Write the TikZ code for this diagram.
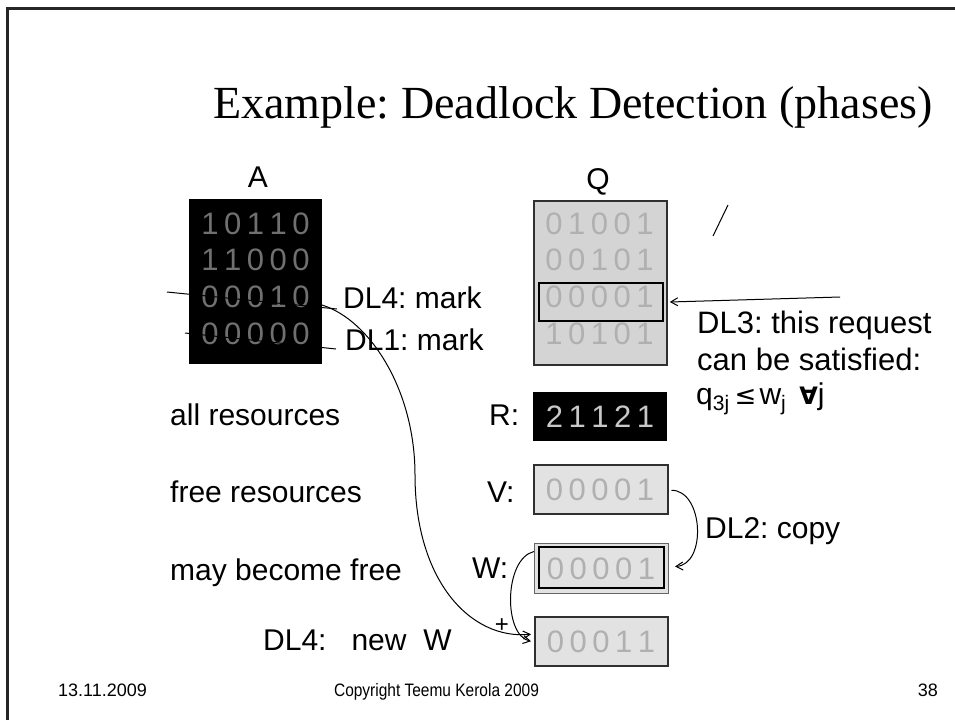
\documentclass[tikz,border=0pt]{standalone}
\usepackage{fontspec}
\setmainfont{Liberation Sans}
\newfontfamily\titlefont{Liberation Serif}
\newfontfamily\symf{DejaVu Sans}
\usetikzlibrary{arrows.meta}
\frenchspacing
\newcommand{\dsp}{\kern5.5pt}
\newcommand{\drow}[5]{#1\dsp#2\dsp#3\dsp#4\dsp#5}
\definecolor{qfill}{HTML}{D4D4D4}
\definecolor{vfill}{HTML}{E2E2E2}
\definecolor{qdig}{HTML}{B0B0B0}
\definecolor{adig}{HTML}{707070}
\definecolor{rdig}{HTML}{C8C8C8}
\definecolor{boxline}{HTML}{303030}
\tikzset{
  lbl/.style={inner sep=0pt, anchor=base west, font=\fontsize{30}{36}\selectfont},
  digA/.style={inner sep=0pt, anchor=base, text=adig, font=\fontsize{31}{36}\selectfont},
  digQ/.style={inner sep=0pt, anchor=base, text=qdig, font=\fontsize{31}{36}\selectfont},
  digR/.style={inner sep=0pt, anchor=base, text=rdig, font=\fontsize{31}{36}\selectfont},
  lightbox/.style={draw=boxline, line width=1.5pt, fill=vfill},
  arr/.style={line width=1pt, -{Straight Barb[length=7pt,width=8pt]}},
  thin/.style={line width=1pt},
  foot/.style={inner sep=0pt, anchor=base, font=\fontsize{18}{20}\selectfont}
}
\begin{document}
\begin{tikzpicture}[x=1pt,y=-1pt]
\useasboundingbox (0,0) rectangle (955,720);
\fill[white] (0,0) rectangle (955,720);
% frame
\draw[line width=3pt, black!85] (7,720) -- (7,8) -- (955,8);
% title
\node (title) [inner sep=0pt, anchor=base, font=\titlefont\fontsize{46}{52}\selectfont] at (573,118) {Example: Deadlock Detection (phases)};
% A matrix
\node (Alab) [inner sep=0pt, anchor=base, font=\fontsize{30}{36}\selectfont] at (258,187) {A};
\node (Abox) [fill=black, minimum width=133pt, minimum height=165pt, inner sep=0pt, anchor=north west] at (189,199) {};
\node (a1) [digA] at (255.5,234) {\drow10110};
\node (a2) [digA] at (255.5,270.5) {\drow11000};
\node (a3) [digA] at (255.5,307) {\drow00010};
\node (a4) [digA] at (255.5,344) {\drow00000};
% mark lines
\coordinate (m4l) at (167,292);
\coordinate (m4r) at (337,309);
\coordinate (m1l) at (185,333);
\coordinate (m1r) at (336,349);
\draw[thin] (m4l) -- (m4r);
\draw[thin] (m1l) -- (m1r);
\node (dl4) [lbl] at (343,308) {DL4: mark};
\node (dl1) [lbl] at (345,350) {DL1: mark};
% Q matrix
\node (Qlab) [inner sep=0pt, anchor=base, font=\fontsize{30}{36}\selectfont] at (598,189) {Q};
\node (Qbox) [draw=boxline, line width=1.5pt, fill=qfill, minimum width=133pt, minimum height=164pt, inner sep=0pt, anchor=north west] at (533,200) {};
\node (q1) [digQ] at (599.5,234) {\drow01001};
\node (q2) [digQ] at (599.5,270.5) {\drow00101};
\node (q3) [digQ] at (599.5,307) {\drow00001};
\node (q4) [digQ] at (599.5,344) {\drow10101};
\node (Qhl) [draw=black, line width=1.6pt, minimum width=124pt, minimum height=38pt, inner sep=0pt] at (601,302) {};
% slash
\coordinate (s1) at (713,236);
\coordinate (s2) at (728,205);
\draw[thin] (s1) -- (s2);
% DL3
\coordinate (dl3s) at (840,297);
\draw[arr] (dl3s) -- ([xshift=6pt]Qhl.east);
\node (dl3a) [lbl, font=\fontsize{31}{36}\selectfont] at (697,333) {DL3: this request};
\node (dl3b) [lbl, font=\fontsize{31}{36}\selectfont] at (697,370) {can be satisfied:};
\node (dl3c) [lbl] at (696,404) {q\textsubscript{3j}\kern5pt{\symf\fontsize{26}{30}\selectfont ≤}\kern3pt w\textsubscript{j}\kern13pt{\symf\bfseries\fontsize{24}{30}\selectfont ∀}j};
% left labels
\node (allr) [lbl] at (170,425) {all resources};
\node (freer) [lbl] at (170,502) {free resources};
\node (mayb) [lbl] at (170,580) {may become free};
\node (neww) [lbl] at (263,650) {DL4:\ \ \ new\ \ W};
% vectors
\node (Rlab) [lbl] at (489,425) {R:};
\node (Rbox) [fill=black, minimum width=134pt, minimum height=49pt, inner sep=0pt, anchor=north west] at (533,392) {};
\node (r) [digR] at (600,427) {\drow21121};
\node (Vlab) [lbl] at (487,502) {V:};
\node (Vbox) [lightbox, minimum width=134pt, minimum height=49pt, inner sep=0pt, anchor=north west] at (533,464) {};
\node (v) [digQ] at (600,500) {\drow00001};
\node (Wlab) [lbl] at (472,578) {W:};
\node (Wout) [draw=black!60, line width=1pt, fill=vfill, minimum width=134pt, minimum height=50pt, inner sep=0pt, anchor=north west] at (534,543) {};
\node (Win) [draw=black, line width=2pt, minimum width=125pt, minimum height=41pt, inner sep=0pt] at (601.5,567.5) {};
\node (w) [digQ] at (601,579) {\drow00001};
\node (Nbox) [lightbox, minimum width=133pt, minimum height=49pt, inner sep=0pt, anchor=north west] at (534,616) {};
\node (n) [digQ] at (601,652) {\drow00011};
% DL2 copy
\draw[arr] ([xshift=3pt,yshift=-1pt]Vbox.east) .. controls +(32,0) and +(32,-2) .. ([xshift=6pt,yshift=2pt]Wout.east);
\node (dl2) [lbl] at (705,538) {DL2: copy};
% W -> new
\draw[arr] ([yshift=17pt]Wout.west) .. controls +(-30,7) and +(-28,-6) .. ([xshift=-3pt]Nbox.west);
\node (plus) [inner sep=0pt, font=\fontsize{24}{26}\selectfont] at (502,626) {+};
% big curve from A row 3 to new
\coordinate (cs) at (322,305);
\coordinate (cm) at (415,475);
\draw[arr] (cs) .. controls (370,320) and (415,390) .. (cm) .. controls (415,580) and (470,640) .. ([xshift=-3pt,yshift=7pt]Nbox.west);
% footer
\node (date) [foot, anchor=base west] at (58,696) {13.11.2009};
\node (copy) [foot, xscale=0.86] at (436.5,696) {Copyright Teemu Kerola 2009};
\node (page) [foot, anchor=base east] at (938,696) {38};
\end{tikzpicture}
\end{document}
